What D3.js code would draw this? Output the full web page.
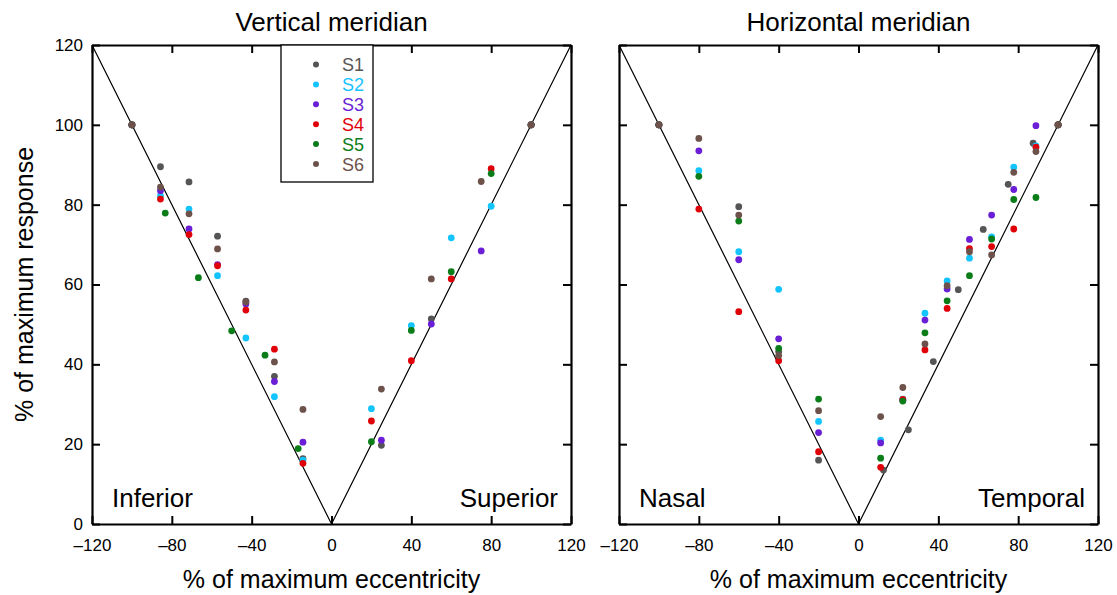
<!DOCTYPE html>
<html>
<head>
<meta charset="utf-8">
<script src="https://cdn.jsdelivr.net/npm/d3@7"></script>
<style>
  body { margin: 0; background: #fff; }
  svg { font-family: "Liberation Sans", Arial, Helvetica, sans-serif; }
</style>
</head>
<body>
<script>
var SUBJECTS = ["S1", "S2", "S3", "S4", "S5", "S6"];
var COLORES = ["#555555", "#14c4ff", "#6a1fd6", "#e00008", "#0a7d18", "#6d524b"];

var TICKS = [-120, -80, -40, 0, 40, 80, 120];
var YTICKS = [0, 20, 40, 60, 80, 100, 120];

// Vertical meridian: [eccentricity, response]
var vertS1 = [[-100, 100], [-85.7, 89.5], [-71.4, 85.7], [-57.1, 72.1], [-42.9, 55.8], [-28.6, 37.0], [-14.3, 16.4], [25, 19.7], [50, 51.4], [100, 100]];
var vertS2 = [[-100, 100], [-85.7, 82.2], [-71.4, 78.9], [-57.1, 62.2], [-42.9, 46.6], [-28.6, 31.9], [-14.3, 16.0], [20, 28.9], [40, 49.7], [60, 71.7], [80, 79.6], [100, 100]];
var vertS3 = [[-100, 100], [-85.7, 83.5], [-71.4, 73.9], [-57.1, 65.0], [-42.9, 55.1], [-28.6, 35.7], [-14.3, 20.5], [25, 21.0], [50, 50.1], [75, 68.4], [100, 100]];
var vertS4 = [[-100, 100], [-85.7, 81.4], [-71.4, 72.5], [-57.1, 64.7], [-42.9, 53.6], [-28.6, 43.8], [-14.3, 15.2], [20, 25.8], [40, 40.9], [60, 61.4], [80, 89.0], [100, 100]];
var vertS5 = [[-100, 100], [-83.3, 77.9], [-66.7, 61.7], [-50, 48.4], [-33.3, 42.3], [-16.7, 18.9], [20, 20.6], [40, 48.5], [60, 63.2], [80, 87.8], [100, 100]];
var vertS6 = [[-100, 100], [-85.7, 84.4], [-71.4, 77.7], [-57.1, 68.9], [-42.9, 55.6], [-28.6, 40.6], [-14.3, 28.7], [25, 33.8], [50, 61.4], [75, 85.8], [100, 100]];

// Horizontal meridian
var horzS1 = [[-100, 100], [-60, 79.5], [-40, 43.2], [-20, 16.0], [12.5, 13.5], [25, 23.6], [37.5, 40.7], [50, 58.7], [62.5, 73.8], [75, 85.1], [87.5, 95.4], [100, 100]];
var horzS2 = [[-100, 100], [-80, 88.5], [-60, 68.2], [-40, 58.8], [-20, 25.7], [11.1, 21.0], [22.2, 31.3], [33.3, 52.8], [44.4, 60.9], [55.6, 66.6], [66.7, 71.9], [77.8, 89.4], [88.9, 94.7], [100, 100]];
var horzS3 = [[-100, 100], [-80, 93.5], [-60, 66.2], [-40, 46.4], [-20, 22.9], [11.1, 20.3], [22.2, 31.0], [33.3, 51.1], [44.4, 58.9], [55.6, 71.3], [66.7, 77.4], [77.8, 83.8], [88.9, 99.8], [100, 100]];
var horzS4 = [[-100, 100], [-80, 78.9], [-60, 53.2], [-40, 40.9], [-20, 18.1], [11.1, 14.2], [22.2, 31.2], [33.3, 43.6], [44.4, 54.0], [55.6, 69.0], [66.7, 69.5], [77.8, 73.9], [88.9, 94.4], [100, 100]];
var horzS5 = [[-100, 100], [-80, 87.1], [-60, 75.9], [-40, 44.0], [-20, 31.3], [11.1, 16.5], [22.2, 30.8], [33.3, 47.9], [44.4, 55.9], [55.6, 62.2], [66.7, 71.4], [77.8, 81.3], [88.9, 81.8], [100, 100]];
var horzS6 = [[-100, 100], [-80, 96.6], [-60, 77.4], [-40, 42.2], [-20, 28.4], [11.1, 26.9], [22.2, 34.2], [33.3, 45.1], [44.4, 59.7], [55.6, 68.2], [66.7, 67.4], [77.8, 88.1], [88.9, 93.3], [100, 100]];

var VERT = [vertS1, vertS2, vertS3, vertS4, vertS5, vertS6];
var HORZ = [horzS1, horzS2, horzS3, horzS4, horzS5, horzS6];

var W = 1117, H = 595;
var TOP = 45, BOTTOM = 524;

var svg = d3.select("body").append("svg").attr("width", W).attr("height", H);

var yScale = d3.scaleLinear().domain([0, 120]).range([BOTTOM, TOP]);

function menos(d) {
  return d < 0 ? "\u2013" + Math.abs(d) : "" + d;
}

function panel(x0, x1, title, data, leftLab, rightLab, showY, showLegend) {
  var xScale = d3.scaleLinear().domain([-120, 120]).range([x0, x1]);
  var g = svg.append("g");

  // titulo
  g.append("text").attr("x", (x0 + x1) / 2).attr("y", 31).attr("text-anchor", "middle")
    .style("font-size", "26px").text(title);

  // linea en V
  var vline = d3.line().x(function (d) { return xScale(d[0]); }).y(function (d) { return yScale(d[1]); });
  g.append("path").datum([[-120, 120], [0, 0], [120, 120]]).attr("d", vline)
    .attr("fill", "none").attr("stroke", "#000").attr("stroke-width", 1.2);

  // ejes (ticks hacia adentro en los cuatro lados)
  var ax = [
    g.append("g").attr("transform", "translate(0," + BOTTOM + ")").call(d3.axisBottom(xScale).tickValues(TICKS).tickSizeInner(-8).tickSizeOuter(0).tickPadding(15).tickFormat(menos)),
    g.append("g").attr("transform", "translate(0," + TOP + ")").call(d3.axisTop(xScale).tickValues(TICKS).tickSizeInner(-8).tickSizeOuter(0).tickFormat("")),
    g.append("g").attr("transform", "translate(" + x0 + ",0)").call(d3.axisLeft(yScale).tickValues(YTICKS).tickSizeInner(-8).tickSizeOuter(0).tickPadding(9).tickFormat(showY ? d3.format("d") : "")),
    g.append("g").attr("transform", "translate(" + x1 + ",0)").call(d3.axisRight(yScale).tickValues(YTICKS).tickSizeInner(-8).tickSizeOuter(0).tickFormat(""))
  ];
  ax.forEach(function (a) {
    a.select(".domain").attr("stroke-width", 2.2);
    a.selectAll(".tick line").attr("stroke-width", 2);
    a.selectAll("text").style("font-size", "17px").style("font-family", "Liberation Sans, Arial, sans-serif").attr("fill", "#000");
  });

  // puntos
  data.forEach(function (serie, i) {
    g.append("g").selectAll("circle").data(serie).enter().append("circle")
      .attr("cx", function (d) { return xScale(d[0]); })
      .attr("cy", function (d) { return yScale(d[1]); })
      .attr("r", 3.4)
      .attr("fill", COLORES[i]);
  });

  // etiquetas de esquina
  g.append("text").attr("x", x0 + 20).attr("y", 507).style("font-size", "26px").text(leftLab);
  g.append("text").attr("x", x1 - 13).attr("y", 507).attr("text-anchor", "end").style("font-size", "26px").text(rightLab);

  // titulo eje x
  g.append("text").attr("x", (x0 + x1) / 2).attr("y", 588).attr("text-anchor", "middle")
    .style("font-size", "25px").text("% of maximum eccentricity");

  if (showLegend) leyenda(g);
}

function leyenda(g) {
  var lg = g.append("g").attr("transform", "translate(281," + TOP + ")");
  lg.append("rect").attr("width", 92).attr("height", 137).attr("fill", "#fff").attr("stroke", "#000").attr("stroke-width", 1.3);
  SUBJECTS.forEach(function (s, i) {
    var yy = 19.5 + i * 19.9;
    lg.append("circle").attr("cx", 35).attr("cy", yy).attr("r", 3).attr("fill", COLORES[i]);
    lg.append("text").attr("x", 61).attr("y", yy + 6.5).style("font-size", "18px").attr("fill", COLORES[i]).text(s);
  });
}

panel(92, 571, "Vertical meridian", VERT, "Inferior", "Superior", true, true);
panel(619, 1098, "Horizontal meridian", HORZ, "Nasal", "Temporal", false, false);

// titulo eje y
svg.append("text").attr("transform", "translate(33," + ((TOP + BOTTOM) / 2) + ") rotate(-90)")
  .attr("text-anchor", "middle").style("font-size", "25px").text("% of maximum response");
</script>
</body>
</html>
